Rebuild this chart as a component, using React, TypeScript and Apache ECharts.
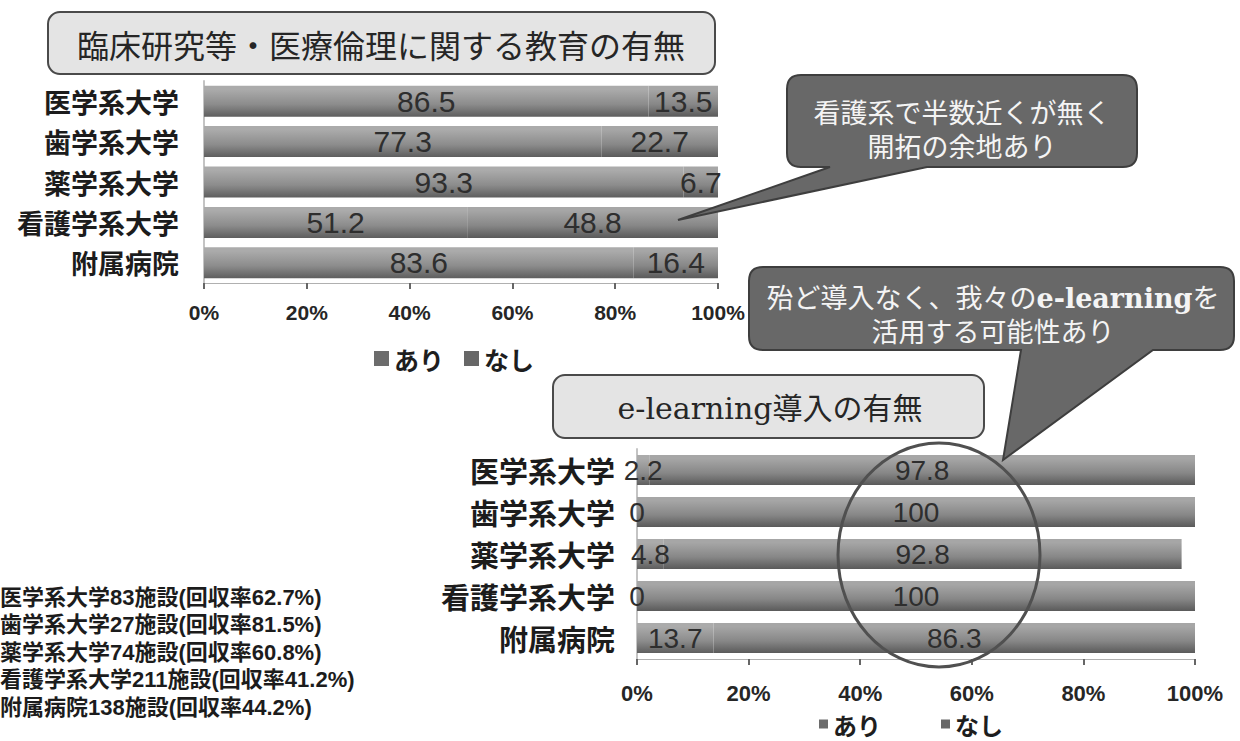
import React, { useEffect, useRef } from 'react';
import * as echarts from 'echarts';

// Survey categories (same five groups in both charts)
const categories = ['医学系大学', '歯学系大学', '薬学系大学', '看護学系大学', '附属病院'];
const seriesNames = ['あり', 'なし'];

// 臨床研究等・医療倫理に関する教育の有無 (%)
const educationYes = [86.5, 77.3, 93.3, 51.2, 83.6];
const educationNo = [13.5, 22.7, 6.7, 48.8, 16.4];

// e-learning導入の有無 (%)
const elearningYes = [2.2, 0, 4.8, 0, 13.7];
const elearningNo = [97.8, 100, 92.8, 100, 86.3];

// Percent axis
const axisMin = 0;
const axisMax = 100;
const axisStep = 20;

const titleEducation = '臨床研究等・医療倫理に関する教育の有無';
const titleElearning = 'e-learning導入の有無';
const noteNursing = ['看護系で半数近くが無く', '開拓の余地あり'];
const noteElearning = ['殆ど導入なく、我々の{b|e-learning}を', '活用する可能性あり'];
const responseNotes = [
  '医学系大学83施設(回収率62.7%)',
  '歯学系大学27施設(回収率81.5%)',
  '薬学系大学74施設(回収率60.8%)',
  '看護学系大学211施設(回収率41.2%)',
  '附属病院138施設(回収率44.2%)',
];

const SANS = '"Noto Sans CJK JP", "Noto Sans", sans-serif';
const NUM = '"Liberation Sans", Arial, sans-serif';
const SERIF = '"DejaVu Serif", "Noto Sans CJK JP", serif';

// Speech bubble outline: rounded rectangle with a pointer leaving its bottom edge
function bubblePath(
  x: number, y: number, w: number, h: number, r: number,
  b1: number, b2: number, tx: number, ty: number
): string {
  const R = x + w;
  const B = y + h;
  return (
    `M${x + r} ${y} H${R - r} Q${R} ${y} ${R} ${y + r} V${B - r} Q${R} ${B} ${R - r} ${B} ` +
    `H${b2} L${tx} ${ty} L${b1} ${B} H${x + r} Q${x} ${B} ${x} ${B - r} V${y + r} Q${x} ${y} ${x + r} ${y} Z`
  );
}

echarts.graphic.registerShape(
  'calloutNursing',
  echarts.graphic.extendPath(bubblePath(787, 75, 350, 92, 14, 830, 927, 678, 220), {})
);
echarts.graphic.registerShape(
  'calloutElearning',
  echarts.graphic.extendPath(bubblePath(749, 267, 485, 83, 14, 1021, 1153, 1003, 460), {})
);

// Bars: light top edge fading to a dark lower edge
const grad = (top: string, mid: string, bottom: string) =>
  new echarts.graphic.LinearGradient(0, 0, 0, 1, [
    { offset: 0, color: top },
    { offset: 0.12, color: top },
    { offset: 0.6, color: mid },
    { offset: 1, color: bottom },
  ]);

function buildOption(): echarts.EChartsOption {
  const valueLabel = (size: number) => ({
    show: true,
    position: 'inside' as const,
    fontSize: size,
    fontFamily: NUM,
    color: '#2e2e2e',
    formatter: (p: any) => String(p.value),
  });

  const xAxisBase = (labelMargin: number, labelSize: number) => ({
    type: 'value' as const,
    min: axisMin,
    max: axisMax,
    interval: axisStep,
    axisLine: { show: true, lineStyle: { color: '#b0b0b0', width: 1 } },
    axisTick: { show: true, length: 6, lineStyle: { color: '#666', width: 2 } },
    splitLine: { show: false },
    axisLabel: {
      formatter: '{value}%',
      margin: labelMargin,
      fontSize: labelSize,
      fontWeight: 'bold' as const,
      fontFamily: NUM,
      color: '#262626',
    },
  });

  const yAxisBase = (labelMargin: number, labelSize: number) => ({
    type: 'category' as const,
    data: categories,
    inverse: true,
    axisLine: { show: true, lineStyle: { color: '#c4c4c4', width: 2 } },
    axisTick: { show: false },
    axisLabel: {
      margin: labelMargin,
      fontSize: labelSize,
      fontWeight: 'bold' as const,
      fontFamily: SANS,
      color: '#1c1c1c',
    },
  });

  const yesColor = grad('#ababab', '#8c8c8c', '#5e5e5e');
  const noColor = grad('#a6a6a6', '#878787', '#5a5a5a');

  const legendText = (size: number) => ({
    fontSize: size,
    lineHeight: size + 2,
    fontWeight: 'bold' as const,
    fontFamily: SANS,
    color: '#1e1e1e',
  });

  return {
    animation: false,
    backgroundColor: '#ffffff',
    grid: [
      { left: 204, top: 81, width: 514, height: 202 },
      { left: 637, top: 449, width: 558, height: 210 },
    ],
    xAxis: [
      { ...xAxisBase(19, 21), gridIndex: 0 },
      { ...xAxisBase(23, 22), gridIndex: 1 },
    ],
    yAxis: [
      { ...yAxisBase(25, 27), gridIndex: 0 },
      { ...yAxisBase(22, 29), gridIndex: 1 },
    ],
    legend: [
      {
        data: [
          { name: seriesNames[0], itemStyle: { color: '#6c6c6c' } },
          { name: seriesNames[1], itemStyle: { color: '#676767' } },
        ],
        left: 374,
        top: 345,
        icon: 'rect',
        itemWidth: 15,
        itemHeight: 15,
        itemGap: 20,
        padding: 0,
        selectedMode: false,
        textStyle: legendText(25),
      },
      {
        data: [
          { name: seriesNames[0], itemStyle: { color: '#6c6c6c' } },
          { name: seriesNames[1], itemStyle: { color: '#676767' } },
        ],
        left: 819,
        top: 711,
        icon: 'rect',
        itemWidth: 9,
        itemHeight: 9,
        itemGap: 60,
        padding: 0,
        selectedMode: false,
        textStyle: legendText(24),
      },
    ],
    series: [
      {
        name: seriesNames[0],
        type: 'bar',
        stack: 'education',
        xAxisIndex: 0,
        yAxisIndex: 0,
        barWidth: 31,
        data: educationYes,
        itemStyle: { color: yesColor },
        label: valueLabel(30),
      },
      {
        name: seriesNames[1],
        type: 'bar',
        stack: 'education',
        xAxisIndex: 0,
        yAxisIndex: 0,
        barWidth: 31,
        data: educationNo,
        itemStyle: { color: noColor },
        label: valueLabel(30),
      },
      {
        name: seriesNames[0],
        type: 'bar',
        stack: 'elearning',
        xAxisIndex: 1,
        yAxisIndex: 1,
        barWidth: 30,
        data: elearningYes,
        itemStyle: { color: yesColor },
        label: valueLabel(28),
      },
      {
        name: seriesNames[1],
        type: 'bar',
        stack: 'elearning',
        xAxisIndex: 1,
        yAxisIndex: 1,
        barWidth: 30,
        data: elearningNo,
        itemStyle: { color: noColor },
        label: valueLabel(28),
      },
    ],
    graphic: [
      // chart titles in rounded boxes
      {
        type: 'rect',
        z: 10,
        shape: { x: 48, y: 12, width: 667, height: 62, r: 12 },
        style: { fill: '#e4e4e4', stroke: '#4a4a4a', lineWidth: 2 },
      },
      {
        type: 'text',
        z: 11,
        style: {
          text: titleEducation,
          x: 381,
          y: 44,
          align: 'center',
          verticalAlign: 'middle',
          textAlign: 'center',
          textVerticalAlign: 'middle',
          fontSize: 32,
          fontFamily: SANS,
          fill: '#262626',
        } as any,
      },
      {
        type: 'rect',
        z: 10,
        shape: { x: 553, y: 375, width: 431, height: 63, r: 12 },
        style: { fill: '#e4e4e4', stroke: '#4a4a4a', lineWidth: 2 },
      },
      {
        type: 'text',
        z: 11,
        style: {
          text: titleElearning,
          x: 770,
          y: 408,
          align: 'center',
          verticalAlign: 'middle',
          textAlign: 'center',
          textVerticalAlign: 'middle',
          fontSize: 30,
          fontFamily: SERIF,
          fill: '#262626',
        } as any,
      },
      // highlight ring around the なし values
      {
        type: 'ellipse',
        z: 20,
        shape: { cx: 939, cy: 555, rx: 101, ry: 112 },
        style: { fill: 'none', stroke: '#505050', lineWidth: 3 },
      },
      // callouts
      {
        type: 'calloutNursing',
        z: 30,
        x: 0,
        y: 0,
        style: { fill: '#686868', stroke: '#3e3e3e', lineWidth: 2 },
      } as any,
      {
        type: 'text',
        z: 31,
        style: {
          text: noteNursing.join('\n'),
          x: 962,
          y: 130,
          align: 'center',
          verticalAlign: 'middle',
          textAlign: 'center',
          textVerticalAlign: 'middle',
          fontSize: 27,
          lineHeight: 34,
          fontFamily: SERIF,
          fill: '#f4f4f4',
        } as any,
      },
      {
        type: 'calloutElearning',
        z: 30,
        x: 0,
        y: 0,
        style: { fill: '#686868', stroke: '#3e3e3e', lineWidth: 2 },
      } as any,
      {
        type: 'text',
        z: 31,
        style: {
          text: noteElearning.join('\n'),
          x: 993,
          y: 315,
          align: 'center',
          verticalAlign: 'middle',
          textAlign: 'center',
          textVerticalAlign: 'middle',
          fontSize: 27,
          lineHeight: 34,
          fontFamily: SERIF,
          fill: '#f4f4f4',
          rich: {
            b: {
              fontSize: 27,
              fontWeight: 'bold',
              fontFamily: SERIF,
              fill: '#f4f4f4',
              lineHeight: 34,
            },
          },
        } as any,
      },
      // response counts
      ...responseNotes.map((line, i) => ({
        type: 'text' as const,
        z: 10,
        style: {
          text: line,
          x: 0,
          y: 597 + i * 27.5,
          align: 'left',
          verticalAlign: 'middle',
          textAlign: 'left',
          textVerticalAlign: 'middle',
          fontSize: 22,
          fontWeight: 'bold',
          fontFamily: '"Liberation Sans", "Noto Sans CJK JP", sans-serif',
          fill: '#1c1c1c',
        } as any,
      })),
    ],
  } as echarts.EChartsOption;
}

export default function App() {
  const ref = useRef<HTMLDivElement>(null);

  useEffect(() => {
    if (!ref.current) return;
    const chart = echarts.init(ref.current, undefined, { renderer: 'svg' });
    chart.setOption(buildOption());
    return () => chart.dispose();
  }, []);

  return (
    <div
      ref={ref}
      style={{ position: 'fixed', left: 0, top: 0, width: 1240, height: 741, background: '#fff' }}
    />
  );
}
